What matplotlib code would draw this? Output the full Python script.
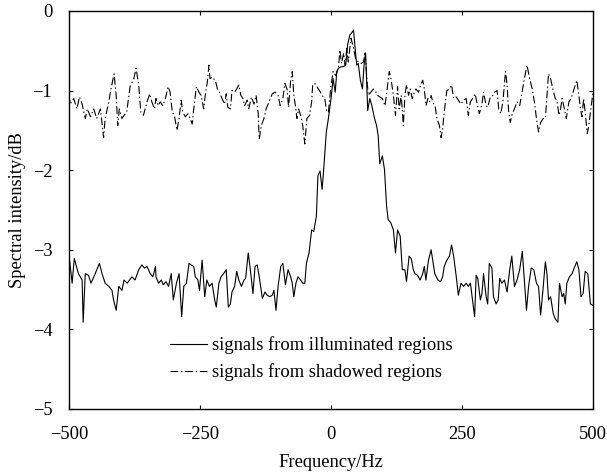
import numpy as np
import matplotlib
matplotlib.use("Agg")
import matplotlib.pyplot as plt

# readings taken from the figure (Hz, dB)
freq_lit = [-499, -494, -490, -482, -475, -473, -469, -463, -458, -450, -442, -437, -431, -424, -418, -415,
            -410, -405, -399, -395, -389, -380, -374, -367, -361, -356, -351, -345, -340, -335,
            -334, -329, -324, -320, -315, -310, -305, -301, -295, -290, -285, -281, -276, -271, -267,
            -262, -259, -254, -251, -246, -241, -237, -232, -227, -222, -219, -214, -210, -205, -200,
            -196, -192, -189, -184, -180, -176, -171, -166, -163, -158, -154, -149, -145, -141, -137,
            -131, -126, -122, -117, -112, -109, -105, -101, -96, -92, -87, -82, -77, -74, -71, -67,
            -63, -58, -54, -50, -47, -42, -37, -33, -28, -25, -21, -17, -14, -9, -5, 0, 4, 8, 11, 14,
            19, 23, 28, 32, 36, 39, 43, 46, 49, 52, 56, 60, 63, 66, 70, 74, 78, 83, 87, 90, 93, 98,
            102, 106, 109, 114, 119, 123, 127, 132, 136, 141, 144, 149, 153, 157, 160, 165, 170, 175,
            178, 181, 186, 191, 195, 198, 204, 209, 213, 216, 221, 226, 230, 234, 239, 243, 248, 253,
            258, 262, 266, 270, 274, 277, 280, 285, 288, 291, 296, 299, 302, 307, 310, 315, 319, 322,
            326, 331, 336, 341, 345, 350, 355, 360, 365, 368, 373, 377, 382, 387, 392, 396, 400, 405,
            409, 412, 415, 419, 424, 428, 433, 436, 441, 444, 447, 450, 455, 460, 464, 469, 473, 477,
            481, 485, 490, 495, 500]
val_lit = [-3.13, -3.42, -3.11, -3.30, -3.38, -3.91, -3.30, -3.32, -3.42, -3.30, -3.17, -3.30, -3.42, -3.46,
           -3.51, -3.63, -3.76, -3.46, -3.51, -3.38, -3.42, -3.34, -3.38, -3.25, -3.19, -3.23, -3.21,
           -3.30, -3.34, -3.21,
           -3.34, -3.42, -3.38, -3.44, -3.40, -3.46, -3.30, -3.63, -3.42, -3.30, -3.84, -3.46, -3.42,
           -3.17, -3.19, -3.21, -3.34, -3.38, -3.51, -3.13, -3.59, -3.38, -3.46, -3.42, -3.63, -3.72,
           -3.42, -3.34, -3.30, -3.25, -3.72, -3.68, -3.53, -3.46, -3.27, -3.38, -3.46, -3.38, -3.36,
           -3.04, -3.25, -3.55, -3.21, -3.19, -3.34, -3.61, -3.53, -3.57, -3.59, -3.57, -3.51, -3.76,
           -3.46, -3.21, -3.17, -3.44, -3.25, -3.34, -3.42, -3.59, -3.42, -3.34, -3.38, -3.42, -3.42,
           -3.17, -3.04, -2.75, -2.77, -2.58, -2.07, -2.01, -2.24, -1.99, -1.52, -1.35, -1.10, -0.85,
           -1.02, -0.76, -0.72, -0.70, -0.70, -0.68, -0.41, -0.30, -0.28, -0.24, -0.47, -0.68, -0.66,
           -0.87, -0.98, -0.68, -0.53, -1.25, -1.10, -1.19, -1.35, -1.44, -1.57, -1.92, -1.82, -1.99,
           -2.45, -2.62, -2.66, -2.75, -3.04, -2.75, -2.83, -3.25, -3.25, -3.40, -3.08, -3.11, -3.25,
           -3.30, -3.32, -3.38, -3.30, -3.21, -3.38, -3.13, -3.00, -3.17, -3.30, -3.38, -3.40, -3.34,
           -3.21, -3.13, -3.08, -2.94, -3.08, -3.34, -3.57, -3.42, -3.46, -3.42, -3.46, -3.42, -3.63,
           -3.84, -3.32, -3.36, -3.63, -3.55, -3.30, -3.59, -3.68, -3.17, -3.23, -3.59, -3.68, -3.63,
           -3.36, -3.42, -3.38, -3.53, -3.25, -3.08, -3.46, -3.38, -3.25, -3.02, -3.30, -3.76, -3.46,
           -3.23, -3.25, -3.42, -3.46, -3.82, -3.46, -3.15, -3.30, -3.63, -3.59, -3.80, -3.87, -3.91,
           -3.42, -3.59, -3.55, -3.68, -3.42, -3.34, -3.30, -3.23, -3.15, -3.25, -3.59, -3.55, -3.27,
           -3.30, -3.68, -3.70]

freq_shd = [-500, -498, -491, -485, -480, -475, -469, -465, -459, -453, -447, -440, -434, -431, -424, -420, -414,
            -410, -407, -404, -399, -395, -390, -383, -377, -372, -367, -363, -358, -351, -346, -342,
            -337, -334, -330, -326, -321, -316, -311, -307, -303, -299, -294, -290, -286, -283, -278,
            -273, -269, -265, -262, -257, -252, -248, -243, -240, -236, -233, -231, -226, -220, -216,
            -213, -208, -203, -200, -197, -192, -189, -184, -180, -176, -172, -168, -165, -160, -157,
            -152, -147, -143, -139, -137, -133, -128, -124, -120, -116, -112, -107, -101, -97, -92, -88,
            -84, -81, -77, -74, -71, -68, -65, -62, -58, -54, -50, -46, -41, -37, -35, -31, -27, -22,
            -17, -12, -8, -5, 0, 4, 9, 14, 17, 20, 24, 27, 30, 33, 38, 43, 47, 52, 57, 62, 65, 68, 71,
            76, 81, 84, 89, 93, 98, 103, 106, 111, 114, 119, 123, 127, 130, 134, 138, 141, 144, 148,
            151, 155, 159, 162, 167, 171, 175, 178, 181, 185, 188, 191, 194, 199, 202, 207, 210, 213,
            216, 221, 226, 230, 234, 239, 243, 248, 253, 258, 262, 266, 270, 275, 279, 283, 288, 291,
            296, 299, 304, 309, 312, 317, 320, 324, 328, 333, 336, 339, 342, 345, 350, 355, 360, 365,
            369, 374, 379, 384, 388, 392, 396, 400, 405, 409, 412, 415, 419, 424, 428, 431, 435, 438,
            441, 444, 449, 454, 458, 462, 466, 469, 473, 476, 479, 482, 485, 489, 492, 495, 500]
val_shd = [-1.05, -1.17, -1.10, -1.23, -1.08, -1.17, -1.35, -1.23, -1.33, -1.23, -1.35, -1.23, -1.59, -1.35,
           -1.14, -0.98, -0.79, -1.06, -1.44, -1.23, -1.35, -1.31, -1.27, -0.93, -0.87, -0.72, -0.93,
           -1.27, -1.31, -1.14, -1.04, -1.14, -1.23, -1.10, -1.19, -1.14, -1.19, -1.10, -0.95, -1.02,
           -1.27, -1.31, -1.50, -1.35, -1.12, -1.27, -1.33, -1.29, -1.35, -1.42, -1.23, -0.95, -1.02,
           -1.06, -1.23, -1.06, -0.89, -0.68, -0.85, -0.83, -0.89, -1.00, -1.02, -1.10, -1.17, -1.04,
           -1.21, -1.23, -1.00, -1.02, -0.98, -0.93, -1.06, -1.10, -1.19, -1.12, -1.23, -1.08, -1.17,
           -1.06, -1.29, -1.61, -1.44, -1.35, -1.23, -1.17, -1.10, -1.04, -1.02, -1.06, -1.19, -1.10,
           -0.91, -0.98, -1.21, -0.87, -0.76, -1.06, -1.19, -1.35, -1.23, -1.31, -1.44, -1.67, -1.35,
           -1.31, -1.14, -0.93, -0.91, -0.95, -1.00, -1.06, -1.10, -1.27, -1.27, -0.93, -0.76, -0.81,
           -0.72, -0.49, -0.66, -0.53, -0.68, -0.47, -0.64, -0.34, -0.47, -0.60, -0.64, -0.66, -0.64,
           -0.51, -0.81, -1.06, -1.02, -0.98, -1.00, -1.06, -1.08, -1.10, -1.19, -1.04, -0.76, -0.83,
           -1.06, -1.31, -0.95, -1.23, -1.06, -1.44, -1.06, -0.93, -1.06, -0.98, -1.10, -1.02, -0.98,
           -1.02, -0.93, -0.87, -0.98, -1.19, -1.10, -1.14, -1.06, -1.14, -1.21, -1.35, -1.44, -1.59,
           -1.48, -1.27, -1.00, -0.98, -0.93, -1.10, -1.08, -1.12, -1.17, -1.12, -1.10, -1.31, -1.14,
           -1.10, -1.04, -1.17, -1.29, -1.17, -1.02, -1.19, -1.21, -1.08, -1.06, -1.02, -1.00, -1.23,
           -1.29, -1.14, -0.76, -0.93, -1.27, -1.40, -1.31, -1.23, -1.14, -1.19, -1.00, -0.85, -0.68,
           -0.85, -0.98, -1.14, -1.35, -1.52, -1.40, -1.35, -1.35, -1.06, -0.79, -0.85, -1.00, -1.10,
           -1.12, -1.31, -1.23, -1.10, -1.19, -1.35, -1.14, -1.10, -1.02, -0.93, -0.87, -1.06, -1.23,
           -1.33, -1.10, -1.27, -1.54, -1.44, -1.27, -1.02]

plt.rcParams['font.family'] = 'Liberation Serif'
plt.rcParams['font.size'] = 13.3

fig = plt.figure(figsize=(6.07, 4.76), dpi=100)
ax = fig.add_axes([0.1137, 0.1408, 0.8633, 0.8361])

ax.plot(freq_lit, val_lit, color='black', lw=0.8, label='signals from illuminated regions')
ax.plot(freq_shd, val_shd, color='black', lw=0.8, linestyle=(0, (7, 2.5, 1.2, 2.5)),
        label='signals from shadowed regions')

ax.set_xlim(-500, 500)
ax.set_ylim(-5, 0)
ax.set_xticks([-500, -250, 0, 250, 500])
ax.set_yticks([-5, -4, -3, -2, -1, 0])
ax.tick_params(direction='in', length=3, width=0.8, top=True, right=True, labelsize=13.3, pad=12)
for s in ax.spines.values():
    s.set_linewidth(1.0)

ax.set_xlabel('Frequency/Hz', labelpad=8)
ax.set_ylabel('Spectral intensity/dB', labelpad=4.5)

ax.legend(loc='lower left', bbox_to_anchor=(0.193, 0.070), frameon=False,
          handlelength=2.0, handletextpad=0.27, borderpad=0, borderaxespad=0, labelspacing=0.5)

fig.savefig('out.png', dpi=100)
